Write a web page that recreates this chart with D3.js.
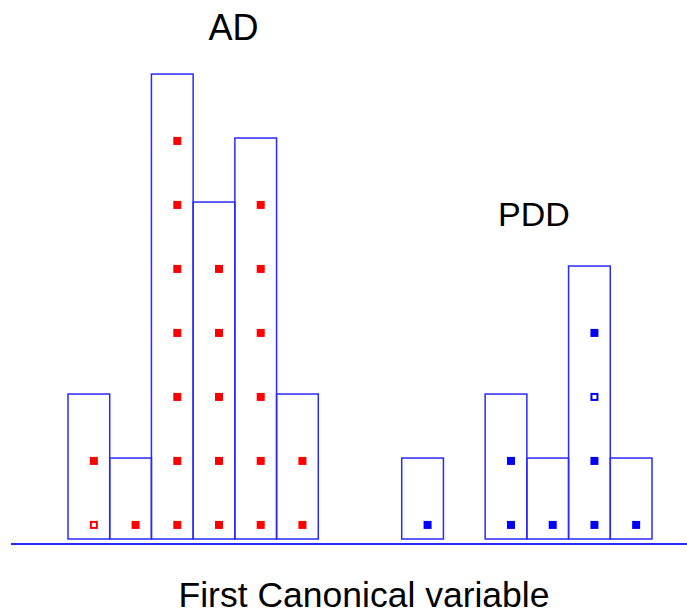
<!DOCTYPE html>
<html>
<head>
<meta charset="utf-8">
<script src="https://cdn.jsdelivr.net/npm/d3@7"></script>
<style>
  html, body { margin: 0; padding: 0; background: #fff; }
  svg { display: block; }
</style>
</head>
<body>
<svg id="chart" width="687" height="614"></svg>
<script>
// ---- data ----
const groupNames = ["AD", "PDD"];
const adBins = [0, 1, 2, 3, 4, 5];
const adCounts = [2, 1, 7, 5, 6, 2];
const pddBins = [8, 10, 11, 12, 13];
const pddCounts = [1, 2, 1, 4, 1];
// open (hollow) markers: [group, bin, level]
const hollowMarkers = [["AD", 0, 0], ["PDD", 12, 2]];
const xTitle = "First Canonical variable";

// ---- build table ----
const bars = [];
adBins.forEach((b, i) => bars.push({ group: "AD", bin: b, count: adCounts[i] }));
pddBins.forEach((b, i) => bars.push({ group: "PDD", bin: b, count: pddCounts[i] }));
const isHollow = (g, b, k) => hollowMarkers.some(h => h[0] === g && h[1] === b && h[2] === k);
const points = [];
bars.forEach(d => {
  for (let k = 0; k < d.count; k++) points.push({ group: d.group, bin: d.bin, level: k, hollow: isHollow(d.group, d.bin, k) });
});

const colors = { AD: "#ff0000", PDD: "#0000ff" };
const barStroke = "#2a2aff";

const svg = d3.select("#chart");
const x = d3.scaleLinear().domain([0, 14]).range([68, 652]);
const y = d3.scaleLinear().domain([0, 8]).range([539, 539 - 8 * 64]);
const barPad = 0.265;   // bar extends a bit above its top marker row
const pointLift = 0.22; // marker row offset above bar base
const pointShift = 0.62; // marker x position within bin (fraction)

// axis baseline
svg.append("line")
  .attr("x1", 11).attr("x2", 687)
  .attr("y1", 544).attr("y2", 544)
  .attr("stroke", barStroke).attr("stroke-width", 2);

// bars
svg.append("g").selectAll("rect").data(bars).join("rect")
  .attr("x", d => x(d.bin))
  .attr("y", d => y(d.count + barPad))
  .attr("width", d => x(d.bin + 1) - x(d.bin))
  .attr("height", d => y(0) - y(d.count + barPad))
  .attr("fill", "none")
  .attr("stroke", barStroke)
  .attr("stroke-width", 1.5);

// markers
const ms = 8;
svg.append("g").selectAll("rect").data(points).join("rect")
  .attr("x", d => x(d.bin + pointShift) - (d.hollow ? ms / 2 - 1 : ms / 2))
  .attr("y", d => y(d.level + pointLift) - (d.hollow ? ms / 2 - 1 : ms / 2))
  .attr("width", d => d.hollow ? ms - 2 : ms)
  .attr("height", d => d.hollow ? ms - 2 : ms)
  .attr("fill", d => d.hollow ? "#fff" : colors[d.group])
  .attr("stroke", d => d.hollow ? colors[d.group] : "none")
  .attr("stroke-width", 2);

// group labels
const labelPos = { AD: [3.97, 40, 36], PDD: [11.17, 226, 34] };
svg.append("g").selectAll("text").data(groupNames).join("text")
  .attr("x", d => x(labelPos[d][0]))
  .attr("y", d => labelPos[d][1])
  .attr("text-anchor", "middle")
  .attr("font-family", "'Liberation Sans', Arial, sans-serif")
  .attr("font-size", d => labelPos[d][2])
  .attr("fill", "#000")
  .text(d => d);

// x title
svg.append("text")
  .attr("x", 364).attr("y", 607)
  .attr("text-anchor", "middle")
  .attr("font-family", "'Liberation Sans', Arial, sans-serif")
  .attr("font-size", 35.5)
  .attr("fill", "#000")
  .text(xTitle);
</script>
</body>
</html>
